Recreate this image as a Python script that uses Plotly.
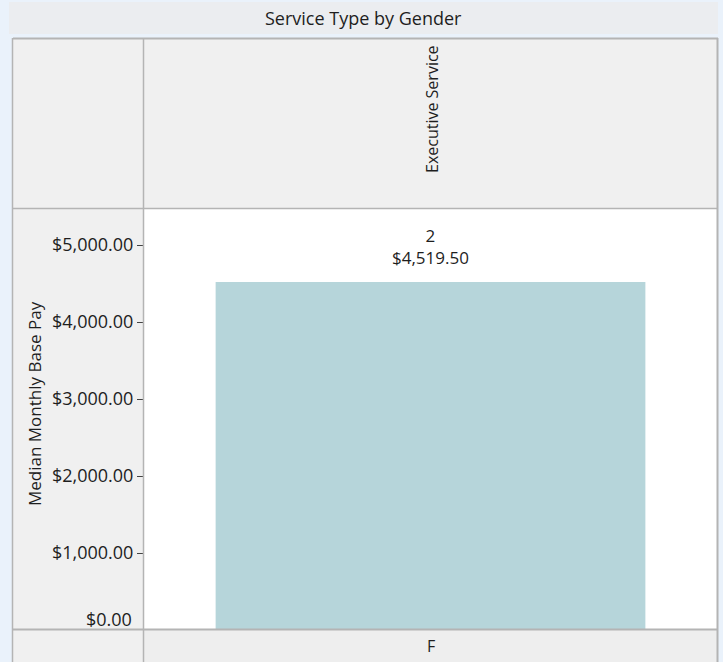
import plotly.graph_objects as go

# Data
genders = ["F"]
service_types = ["Executive Service"]
median_pay = [4519.50]
counts = [2]
y_ticks = [1000, 2000, 3000, 4000, 5000]
zero_label = "$0.00"

W, H = 723, 662
FONT = "Open Sans, Noto Sans, DejaVu Sans, sans-serif"
TXT = "#1E1E1E"

def px(x):
    return x / W

def py(y):
    return 1 - y / H

fig = go.Figure()
fig.add_trace(go.Bar(
    x=genders, y=median_pay,
    marker=dict(color="#B6D5DA", line=dict(width=0)),
    hoverinfo="skip",
))

shapes = []
def rect(x0, y0, x1, y1, color):
    shapes.append(dict(type="rect", xref="paper", yref="paper", x0=px(x0), x1=px(x1), y0=py(y1), y1=py(y0),
                       fillcolor=color, line=dict(width=0), layer="below"))
rect(9, 2, 718, 34, "#EBEDF0")        # title bar
rect(13, 38, 718, 662, "#F0F0F0")     # frame background
rect(144, 209, 717, 630, "#FFFFFF")   # plot area
rect(144, 630, 718, 662, "#EEEEEE")   # bottom label row

gc = "#B4B4B4"
def line(x0, y0, x1, y1, w=1.5):
    shapes.append(dict(type="line", xref="paper", yref="paper", x0=px(x0), x1=px(x1), y0=py(y0), y1=py(y1),
                       line=dict(color=gc, width=w), layer="above"))
line(13, 38.5, 718, 38.5, 2)       # top
line(12.5, 38, 12.5, 662, 1.5)     # left
line(717.5, 38, 717.5, 662, 2)     # right
line(143.5, 38, 143.5, 662, 1.5)   # column divider
line(13, 208.5, 718, 208.5, 1.5)   # header bottom
line(13, 629.5, 718, 629.5, 2)     # plot bottom

annotations = [
    dict(text="Service Type by Gender", xref="paper", yref="paper", x=px(363), y=py(18),
         xanchor="center", yanchor="middle", showarrow=False, font=dict(size=18, color=TXT, family=FONT)),
    dict(text=service_types[0], xref="paper", yref="paper", x=px(432), y=py(43),
         xanchor="center", yanchor="top", textangle=-90, showarrow=False,
         font=dict(size=16, color=TXT, family=FONT)),
    dict(text=genders[0], xref="paper", yref="paper", x=px(431), y=py(646),
         xanchor="center", yanchor="middle", showarrow=False, font=dict(size=16, color=TXT, family=FONT)),
    dict(text="Median Monthly Base Pay", xref="paper", yref="paper", x=px(34), y=py(404),
         xanchor="center", yanchor="middle", textangle=-90, showarrow=False,
         font=dict(size=17, color=TXT, family=FONT)),
    dict(text=zero_label, xref="paper", yref="paper", x=px(134), y=py(619),
         xanchor="right", yanchor="middle", showarrow=False, font=dict(size=18, color=TXT, family=FONT)),
]
for g, v, c in zip(genders, median_pay, counts):
    annotations.append(dict(text=f"{c}<br>${v:,.2f}", x=g, y=v, xref="x", yref="y",
                            xanchor="center", yanchor="bottom", yshift=11, showarrow=False,
                            font=dict(size=17, color=TXT, family=FONT)))

fig.update_layout(
    width=W, height=H,
    margin=dict(l=0, r=0, t=0, b=0),
    paper_bgcolor="#EAF2FB",
    plot_bgcolor="#FFFFFF",
    showlegend=False,
    bargap=0.25,
    font=dict(family=FONT, size=16, color=TXT),
    shapes=shapes,
    annotations=annotations,
    xaxis=dict(domain=[px(144), px(717)], showticklabels=False, showgrid=False, zeroline=False,
               showline=False, ticks=""),
    yaxis=dict(domain=[py(630), py(209)], range=[0, 5468], tickvals=y_ticks, tickformat="$,.2f",
               ticks="outside", ticklen=6, tickcolor="#444444", showgrid=False, zeroline=False,
               showline=False, tickfont=dict(size=18, color=TXT, family=FONT)),
)

fig.write_html("out.html", config={"displayModeBar": False},
               post_script="document.body.style.margin='0';document.body.style.overflow='hidden';"
                           "document.body.style.background='#EAF2FB';")
